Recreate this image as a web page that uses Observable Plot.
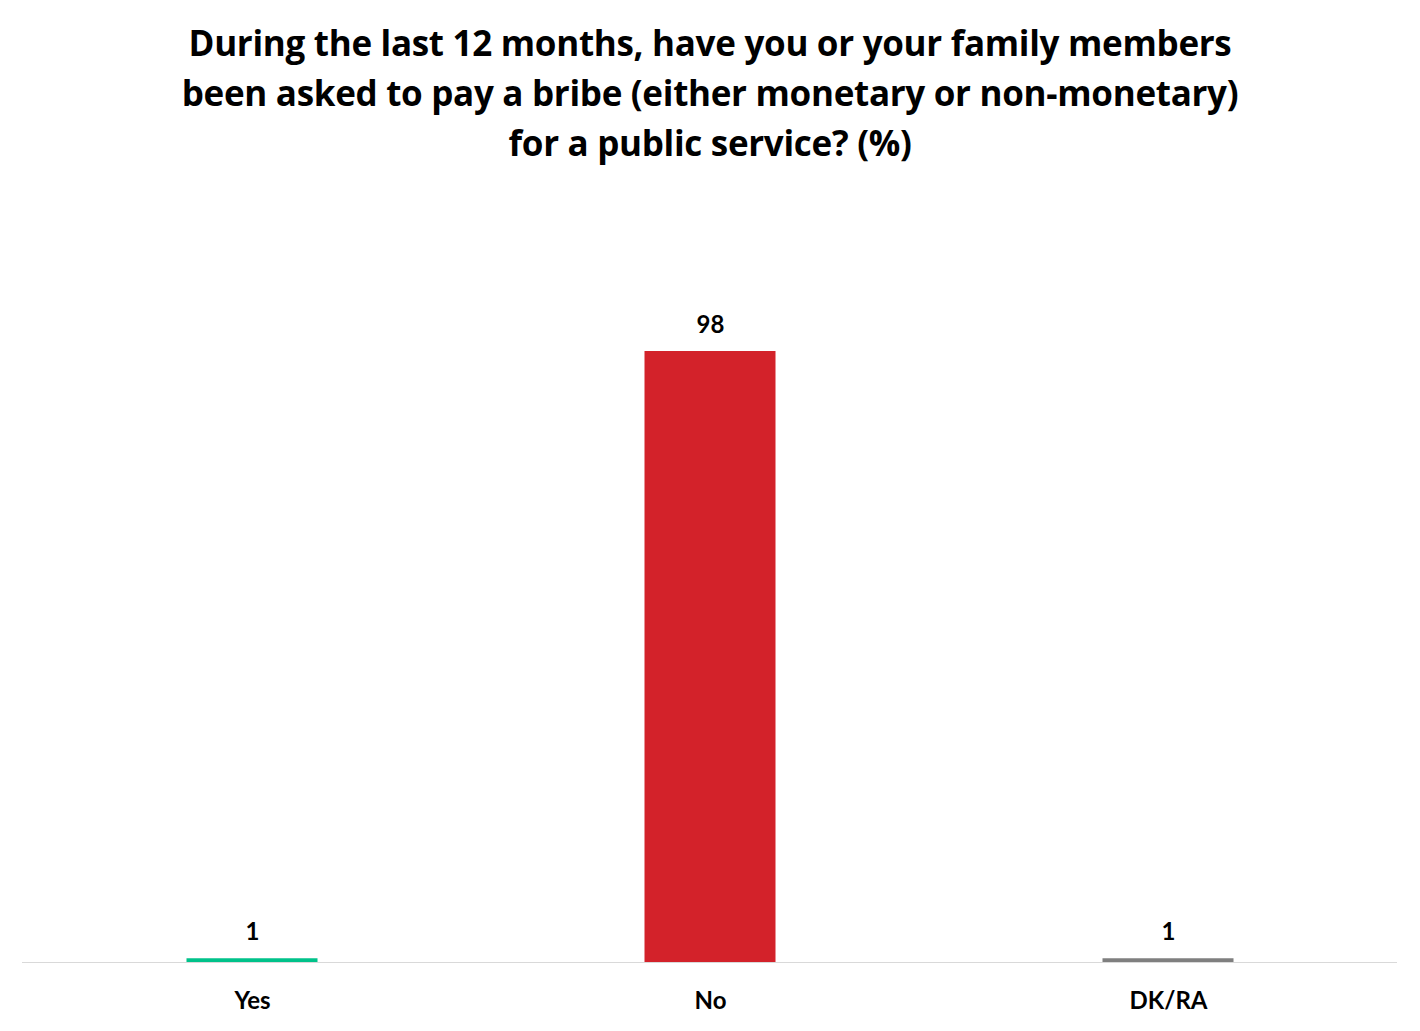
<!DOCTYPE html>
<html>
<head>
<meta charset="utf-8">
<script src="https://cdn.jsdelivr.net/npm/d3@7"></script>
<script src="https://cdn.jsdelivr.net/npm/@observablehq/plot@0.6"></script>
<style>
  html, body { margin: 0; padding: 0; background: #fff; }
  #wrap { width: 1420px; }
  #title {
    height: 162px; padding-top: 18px; box-sizing: content-box;
    text-align: center; font-family: "Open Sans", Lato, sans-serif; font-weight: bold;
    font-size: 35px; line-height: 50px; color: #000; letter-spacing: -0.3px;
  }
  svg { display: block; }
</style>
</head>
<body>
<div id="wrap">
  <div id="title">During the last 12 months, have you or your family members<br>been asked to pay a bribe (either monetary or non-monetary)<br>for a public service? (%)</div>
  <div id="chart"></div>
</div>
<script>
const categories = ["Yes", "No", "DK/RA"];
const values = [0.6, 98, 0.6];
const labels = ["1", "98", "1"];
const colors = ["#00c28a", "#d3222a", "#7f7f7f"];

const data = categories.map((c, i) => ({category: c, value: values[i], label: labels[i], color: colors[i]}));

const chart = Plot.plot({
  width: 1420,
  height: 851,
  marginLeft: 22,
  marginRight: 23,
  marginTop: 171,
  marginBottom: 69,
  style: {fontFamily: "Lato, 'Open Sans', sans-serif", background: "#fff"},
  x: {domain: categories, padding: 0, axis: null, label: null},
  y: {domain: [0, 98], axis: null},
  marks: [
    Plot.barY(data, {x: "category", y: "value", fill: "color", insetLeft: 163.5, insetRight: 163.5}),
    Plot.ruleY([0], {stroke: "#d9d9d9", strokeWidth: 1}),
    Plot.text(data, {x: "category", y: "value", text: "label", dy: -26, fontSize: 24, fontWeight: "bold", fill: "#000"}),
    Plot.axisX({tickSize: 0, tickPadding: 0, lineAnchor: "middle", dy: 39, fontSize: 24, fontWeight: "bold", color: "#000", label: null})
  ]
});
document.getElementById("chart").appendChild(chart);
</script>
</body>
</html>
